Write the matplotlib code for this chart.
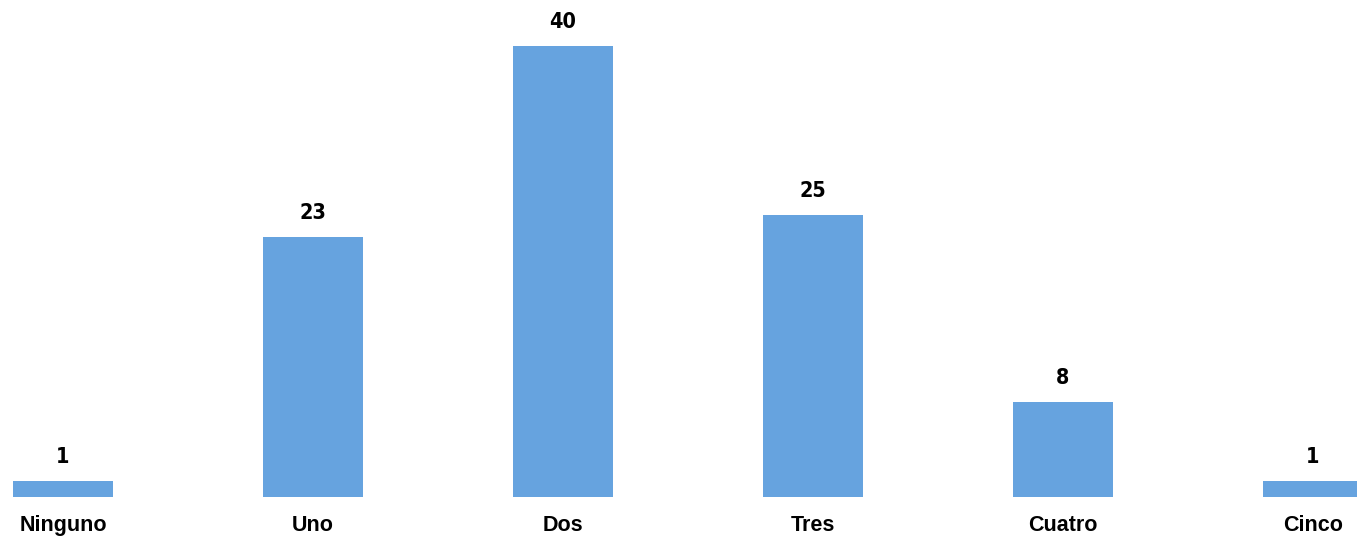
import matplotlib
matplotlib.use("Agg")
import matplotlib.pyplot as plt

categories = ["Ninguno", "Uno", "Dos", "Tres", "Cuatro", "Cinco"]
values = [1.4, 23, 40, 25, 8.4, 1.4]

W, H = 1357, 538
fig = plt.figure(figsize=(W / 100, H / 100), dpi=100)
base_px = 496.5
top_px = 45.7
ax = fig.add_axes([13 / W, (H - base_px) / H, 1 - 13 / W, (base_px - top_px) / H])

x = list(range(len(categories)))
ax.bar(x, values, width=0.4, color="#66A3DF", zorder=2)
ax.set_xlim(-0.2, 5 + (1357 - 1313) / 250)
ax.set_ylim(0, 40)
for s in ax.spines.values():
    s.set_visible(False)
ax.set_yticks([])
ax.set_xticks(x)
ax.set_xticklabels(categories, fontsize=15.5, fontweight="bold",
                   family=["Liberation Sans", "DejaVu Sans"])
ax.tick_params(axis="x", length=0, pad=13)

for xi, v in zip(x, values):
    ax.annotate(f"{v:.0f}", (xi, v), xytext=(0, 10), textcoords="offset points",
                ha="center", va="bottom", fontsize=15.5, fontweight="bold",
                fontstretch="condensed", family="DejaVu Sans",
                annotation_clip=False)

fig.savefig("out.png", dpi=100)
